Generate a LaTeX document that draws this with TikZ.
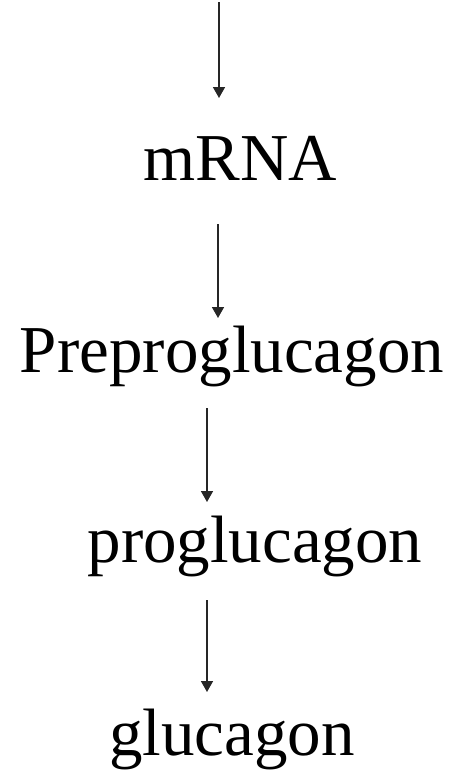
\documentclass[tikz,border=0pt]{standalone}
\usepackage{fontspec}
\setmainfont{Liberation Serif}
\usetikzlibrary{arrows.meta}

\begin{document}
\begin{tikzpicture}[x=1pt,y=-1pt,
    label/.style={anchor=base,inner sep=0pt,font=\fontsize{67}{72}\selectfont},
    arr/.style={draw=black!85,line width=1.6pt,-{Triangle[length=11pt,width=12pt]}}]
    \useasboundingbox (0,0) rectangle (457,774);
    % the chain of products
    \node (mrna) [label] at (240,180) {mRNA};
    \node (prepro) [label] at (232,372) {Preproglucagon};
    \node (pro) [label] at (255,562) {proglucagon};
    \node (gluc) [label] at (232,755) {glucagon};
    % arrow ends
    \coordinate (a1) at (219,2);   \coordinate (b1) at (219,98);
    \coordinate (a2) at (218,224); \coordinate (b2) at (218,318);
    \coordinate (a3) at (207,408); \coordinate (b3) at (207,502);
    \coordinate (a4) at (207,600); \coordinate (b4) at (207,692);
    \draw[arr] (a1) -- (b1);
    \draw[arr] (a2) -- (b2);
    \draw[arr] (a3) -- (b3);
    \draw[arr] (a4) -- (b4);
\end{tikzpicture}
\end{document}
